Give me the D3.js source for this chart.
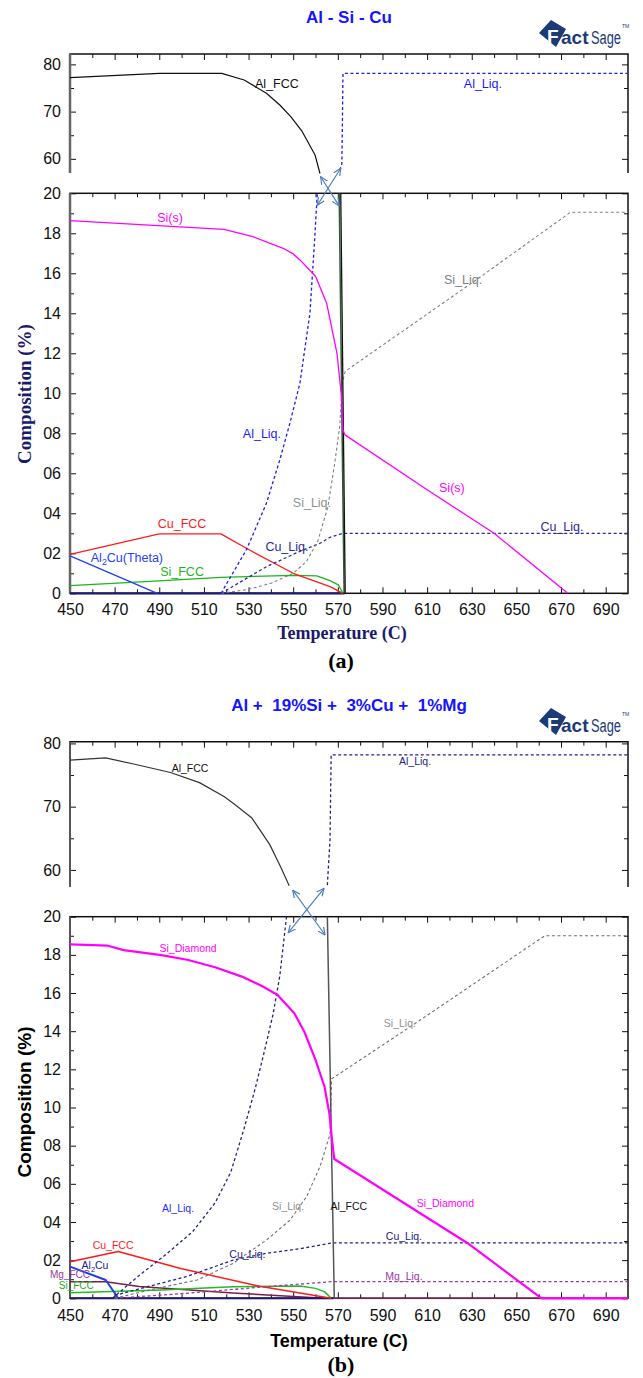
<!DOCTYPE html>
<html>
<head>
<meta charset="utf-8">
<script src="https://cdn.jsdelivr.net/npm/d3@7"></script>
<style>
body{margin:0;background:#fff;}
svg{display:block;}
</style>
</head>
<body>
<div id="chart"></div>
<script>
//Shared axis ticks and labels
var tempLabels = [450,470,490,510,530,550,570,590,610,630,650,670,690];
var tempMinor = [460,480,500,520,540,560,580,600,620,640,660,680];
var compValues = [0,2,4,6,8,10,12,14,16,18,20];
var compLabels = ["0","02","04","06","08","10","12","14","16","18","20"];
var compMinor = [1,3,5,7,9,11,13,15,17,19];
var topValues = [60,70,80];
var topLabels = ["60","70","80"];
var topMinor = [65,75];

//Panel (a) series: [temperature, composition]
var aAlFccTop = [[450,77.2],[490,78.1],[518,78.1],[528,76.7],[538,73.9],[544,71.4],[549,68.9],[554,65.8],[559.8,60.8],[562,56.9]];
var aAlLiqTop = [[571,57.6],[571.8,59],[572,66],[572.3,78.1],[700,78.1]];
var aSiS = [[450,18.63],[519,18.2],[532,17.83],[545.5,17.25],[550,16.97],[553,16.67],[560,15.85],[565,14.5],[569.6,12.0],[571.5,10.0],[572.3,8.17],[573.2,7.92],[610,5.18],[640,3.0],[673,0]];
var aSiLiq = [[517.7,0],[530,0.2],[540,0.5],[550,1.0],[556,1.6],[561,2.6],[565.5,4.3],[568.6,6.5],[570.9,8.4],[572,10.5],[573.3,11.1],[632,15.67],[674.2,19.05],[700,19.05]];
var aAlLiqLow = [[517.7,0],[529,2.17],[538,4.5],[544,6.67],[548.5,8.5],[553,10.5],[557.5,14.0],[559.5,17.5],[560.8,20]];
var aCuLiq = [[517.7,0],[538,1.33],[553,2.1],[562,2.5],[566.5,2.8],[572.3,3.0],[700,3.0]];
var aCuFcc = [[450,1.95],[490,2.97],[517.6,2.97],[529,2.25],[550,1.0],[566.5,0.33],[572.3,0]];
var aAl2Cu = [[450,1.87],[489.1,0]];
var aAl2CuZero = [[450,0],[573,0]];
var aSiFcc = [[450,0.38],[490,0.62],[517.6,0.8],[550,0.9],[560.5,0.87],[566.5,0.63],[570.2,0.42],[572.3,0]];
var aAlFccLow = [[571.3,20],[573.3,0]];
var aAlFccLowShade = [[570.6,20],[572.8,0]];

//Panel (b) series
var bAlFccTop = [[450,77.35],[466,77.7],[479,76.7],[495,75.4],[508,73.8],[519,71.6],[524,70.3],[531.5,68.2],[539.5,64.0],[544.5,60.4],[548.2,57.5]];
var bAlLiqTop = [[565.3,57.6],[566.5,64.8],[567,78.2],[700,78.2]];
var bSiDiamond = [[450,18.55],[467,18.48],[474,18.25],[491,17.99],[503,17.73],[515,17.35],[527,16.86],[536,16.37],[543,15.9],[550.5,14.94],[555,13.97],[560,12.5],[564,11.1],[566.2,9.7],[567.3,8.4],[568.4,7.3],[628,2.9],[661.3,0],[700,0]];
var bAlFccLow = [[565.3,20],[568.4,0]];
var bSiLiq = [[470,0],[490,0.55],[507,0.96],[523,1.83],[538,3.05],[548.6,4.1],[556,5.33],[562,6.9],[566.5,8.6],[567.2,11.5],[604.6,14.4],[662.7,19.0],[700,19.0]];
var bAlLiqLow = [[469,0],[481,1.2],[493,2.3],[505,3.5],[515,5.0],[522,6.6],[528,8.9],[533,11.0],[537,12.9],[541,14.9],[544,16.9],[547,20]];
var bCuLiq = [[470,0.15],[486,0.65],[502,1.13],[523,2.0],[538,2.36],[553,2.6],[567.2,2.9],[700,2.9]];
var bMgLiq = [[470,0],[502,0.26],[538,0.61],[567,0.87],[700,0.87]];
var bCuFcc = [[450,1.92],[471.6,2.45],[500,1.55],[535,0.63],[567,0]];
var bAl2Cu = [[450,1.66],[466,0.96],[471.6,0]];
var bAl2CuZero = [[450,0],[568,0]];
var bMgFcc = [[450,0.87],[466,0.87],[481,0.62],[523,0.28],[560,0.03],[567,0],[700,0]];
var bSiFcc = [[450,0.29],[491,0.44],[523,0.6],[553,0.64],[560,0.52],[564,0.35],[567,0]];

var svg = d3.select("#chart").append("svg")
            .attr("width", 643)
            .attr("height", 1378);

//Open arrow head for the axis-break arrows
svg.append("defs").append("marker")
   .attr("id", "openHead")
   .attr("viewBox", "0 0 8 8")
   .attr("refX", 7.5).attr("refY", 4)
   .attr("markerWidth", 8).attr("markerHeight", 8)
   .attr("markerUnits", "userSpaceOnUse")
   .attr("orient", "auto-start-reverse")
   .append("path")
   .attr("d", "M0,0.5 L7.5,4 L0,7.5")
   .attr("fill", "none")
   .attr("stroke", "#4f7fc0")
   .attr("stroke-width", 1.2);

var sans = "'Liberation Sans', Arial, sans-serif";
var serif = "'Liberation Serif', 'Times New Roman', serif";

function drawLogo(x0, y0) {
  var lg = svg.append("g").attr("transform", "translate(" + x0 + "," + y0 + ")");
  lg.append("polygon")
    .attr("points", "0,13 12,0 27,9 17,27")
    .attr("fill", "#1c3a78");
  lg.append("text").attr("x", 8).attr("y", 23).text("F")
    .attr("font-family", sans).attr("font-weight", "bold")
    .attr("font-size", "19px").attr("fill", "#fff");
  lg.append("text").attr("x", 22).attr("y", 24).text("act")
    .attr("font-family", sans).attr("font-weight", "bold")
    .attr("font-size", "19px").attr("fill", "#1c3a78");
  lg.append("text").attr("x", 52).attr("y", 24).text("Sage")
    .attr("font-family", sans).attr("font-size", "18px")
    .attr("textLength", 30).attr("lengthAdjust", "spacingAndGlyphs")
    .attr("fill", "#1c3a78");
  lg.append("text").attr("x", 83).attr("y", 8).text("TM")
    .attr("font-family", sans).attr("font-size", "5px")
    .attr("fill", "#1c3a78");
}

function drawPanel(p) {
  var g = svg.append("g");
  var x = d3.scaleLinear().domain([450, 700]).range([70, 628]);
  var yTop = d3.scaleLinear().domain(p.topDomain).range([p.topBottom, p.topTop]);
  var yLow = d3.scaleLinear().domain([0, 20]).range([p.lowBottom, p.lowTop]);

  //Title and logo
  g.append("text")
   .attr("x", 349).attr("y", p.titleY)
   .attr("text-anchor", "middle")
   .style("white-space", "pre")
   .attr("font-family", sans).attr("font-weight", "bold")
   .attr("font-size", "17px").attr("fill", "#1414ff")
   .text(p.title);
  drawLogo(539, p.logoY);

  function styleAxis(sel) {
    sel.select(".domain").remove();
    sel.selectAll("line").attr("stroke", "#111");
    sel.selectAll("text").attr("font-family", sans)
       .attr("font-size", "16px").attr("fill", "#111");
  }
  function addAxis(axis, tx, ty) {
    g.append("g").attr("transform", "translate(" + tx + "," + ty + ")")
     .call(axis).call(styleAxis);
  }

  //Top sub-plot axes
  addAxis(d3.axisTop(x).tickValues(tempLabels).tickSize(-6).tickFormat(""), 0, p.topTop);
  addAxis(d3.axisTop(x).tickValues(tempMinor).tickSize(-4).tickFormat(""), 0, p.topTop);
  addAxis(d3.axisLeft(yTop).tickValues(topValues).tickSize(-6).tickPadding(9)
            .tickFormat(function(d, i){ return topLabels[i]; }), 70, 0);
  addAxis(d3.axisLeft(yTop).tickValues(topMinor).tickSize(-4).tickFormat(""), 70, 0);
  addAxis(d3.axisRight(yTop).tickValues(topValues).tickSize(-6).tickFormat(""), 628, 0);
  addAxis(d3.axisRight(yTop).tickValues(topMinor).tickSize(-4).tickFormat(""), 628, 0);

  //Lower sub-plot axes
  addAxis(d3.axisBottom(x).tickValues(tempLabels).tickSize(-6).tickPadding(p.xPad), 0, p.lowBottom);
  addAxis(d3.axisBottom(x).tickValues(tempMinor).tickSize(-4).tickFormat(""), 0, p.lowBottom);
  addAxis(d3.axisTop(x).tickValues(tempLabels).tickSize(-6).tickFormat(""), 0, p.lowTop);
  addAxis(d3.axisTop(x).tickValues(tempMinor).tickSize(-4).tickFormat(""), 0, p.lowTop);
  addAxis(d3.axisLeft(yLow).tickValues(compValues).tickSize(-6).tickPadding(9)
            .tickFormat(function(d, i){ return compLabels[i]; }), 70, 0);
  addAxis(d3.axisLeft(yLow).tickValues(compMinor).tickSize(-4).tickFormat(""), 70, 0);
  addAxis(d3.axisRight(yLow).tickValues(compValues).tickSize(-6).tickFormat(""), 628, 0);
  addAxis(d3.axisRight(yLow).tickValues(compMinor).tickSize(-4).tickFormat(""), 628, 0);

  //Frames: the top plot is open at the bottom (broken axis)
  g.append("path")
   .attr("d", "M70," + p.topBottom + "V" + p.topTop + "H628V" + p.topBottom)
   .attr("fill", "none").attr("stroke", "#111").attr("stroke-width", 1.5);
  g.append("rect")
   .attr("x", 70).attr("y", p.lowTop)
   .attr("width", 558).attr("height", p.lowBottom - p.lowTop)
   .attr("fill", "none").attr("stroke", "#111").attr("stroke-width", 1.5);
  g.append("line")
   .attr("x1", 70).attr("x2", 70)
   .attr("y1", p.topTop).attr("y2", p.topBottom)
   .attr("stroke", p.leftColor).attr("stroke-width", p.leftWidth);
  g.append("line")
   .attr("x1", 70).attr("x2", 70)
   .attr("y1", p.lowTop).attr("y2", p.lowBottom)
   .attr("stroke", p.leftColor).attr("stroke-width", p.leftWidth);

  //Series
  p.series.forEach(function(s) {
    var yy = s.top ? yTop : yLow;
    var line = d3.line().x(function(d){ return x(d[0]); }).y(function(d){ return yy(d[1]); });
    g.append("path")
     .attr("d", line(s.data))
     .attr("fill", "none")
     .attr("stroke", s.color)
     .attr("stroke-width", s.width || 1.3)
     .attr("stroke-dasharray", s.dash ? "3,2.5" : null)
     .attr("stroke-linejoin", "round");
  });

  //Series labels
  p.labels.forEach(function(l) {
    var yy = l.top ? yTop : yLow;
    var t = g.append("text")
             .attr("x", x(l.t)).attr("y", yy(l.v) + p.labelSize * 0.36)
             .attr("text-anchor", "middle")
             .attr("font-family", sans)
             .attr("font-size", (l.size || p.labelSize) + "px")
             .attr("fill", l.color);
    if (l.sub) {
      t.append("tspan").text(l.text[0]);
      t.append("tspan").text(l.sub).attr("dy", 3).attr("font-size", (p.labelSize * 0.7) + "px");
      t.append("tspan").text(l.text[1]).attr("dy", -3);
    } else {
      t.text(l.text);
    }
  });

  //Axis-break arrows
  p.arrows.forEach(function(a) {
    g.append("line")
     .attr("x1", x(a[0])).attr("y1", yTop(a[1]))
     .attr("x2", x(a[2])).attr("y2", yLow(a[3]))
     .attr("stroke", "#4f7fc0").attr("stroke-width", 1.2)
     .attr("marker-start", "url(#openHead)")
     .attr("marker-end", "url(#openHead)");
  });

  //Axis titles and caption
  g.append("text")
   .attr("x", p.xTitleX).attr("y", p.xTitleY)
   .attr("text-anchor", "middle")
   .attr("font-family", p.titleFont).attr("font-weight", "bold")
   .attr("font-size", "18px").attr("fill", p.titleColor)
   .text("Temperature (C)");
  g.append("text")
   .attr("transform", "translate(31," + p.yTitleY + ") rotate(-90)")
   .attr("text-anchor", "middle")
   .attr("font-family", p.titleFont).attr("font-weight", "bold")
   .attr("font-size", "19px").attr("fill", p.titleColor)
   .text("Composition (%)");
  g.append("text")
   .attr("x", 341).attr("y", p.captionY)
   .attr("text-anchor", "middle")
   .attr("font-family", serif).attr("font-weight", "bold")
   .attr("font-size", "22px").attr("fill", "#000")
   .text(p.caption);
}

drawPanel({
  title: "Al - Si - Cu", titleY: 23, logoY: 20,
  topDomain: [57.0, 82.2], topBottom: 173, topTop: 54,
  lowBottom: 593.3, lowTop: 193.3, xPad: 10,
  leftColor: "#666", leftWidth: 2.5,
  titleFont: serif, titleColor: "#1a1a6b",
  xTitleX: 342, xTitleY: 639, yTitleY: 394,
  caption: "(a)", captionY: 668, labelSize: 12.5,
  series: [
    {data: aAlFccTop, color: "#111", top: true, width: 1.2},
    {data: aAlLiqTop, color: "#1a1aff", top: true, dash: true},
    {data: aAl2CuZero, color: "#1a1a70", width: 2.2},
    {data: aSiFcc, color: "#1cb51c"},
    {data: aCuFcc, color: "#ff1a1a"},
    {data: aAl2Cu, color: "#1f3fff"},
    {data: aCuLiq, color: "#2a2a9a", dash: true},
    {data: aSiLiq, color: "#808080", dash: true, width: 1.1},
    {data: aAlLiqLow, color: "#1a1aff", dash: true},
    {data: aAlFccLowShade, color: "#2f5f2f", width: 1.5},
    {data: aAlFccLow, color: "#111", width: 1.3},
    {data: aSiS, color: "#ff00ff", width: 1.3}
  ],
  labels: [
    {text: "Al_FCC", t: 542.7, v: 76.0, top: true, color: "#111"},
    {text: "Al_Liq.", t: 635, v: 76.0, top: true, color: "#1a1aff"},
    {text: "Si(s)", t: 494.8, v: 18.77, color: "#ff00ff"},
    {text: "Si_Liq.", t: 626.1, v: 15.67, color: "#808080"},
    {text: "Al_Liq.", t: 536, v: 7.97, color: "#1a1aff"},
    {text: "Si_Liq.", t: 558.4, v: 4.52, color: "#909090"},
    {text: "Si(s)", t: 621.1, v: 5.27, color: "#ff00ff"},
    {text: "Cu_FCC", t: 500.2, v: 3.47, color: "#ff1a1a"},
    {text: "Cu_Liq.", t: 547.2, v: 2.32, color: "#2a2a9a"},
    {text: "Cu_Liq.", t: 670.4, v: 3.32, color: "#2a2a9a"},
    {text: ["Al", "Cu(Theta)"], sub: "2", t: 475.5, v: 1.77, color: "#1f3fff"},
    {text: "Si_FCC", t: 500.2, v: 1.07, color: "#1cb51c"}
  ],
  arrows: [[562.3, 56.2, 570.6, 19.37], [571.3, 58.0, 560.8, 19.4]]
});

drawPanel({
  title: "Al +  19%Si +  3%Cu +  1%Mg", titleY: 711, logoY: 708,
  topDomain: [57.3, 80.27], topBottom: 887, topTop: 741.7,
  lowBottom: 1298.3, lowTop: 916.7, xPad: 11,
  leftColor: "#555", leftWidth: 2,
  titleFont: sans, titleColor: "#000",
  xTitleX: 339, xTitleY: 1347, yTitleY: 1102,
  caption: "(b)", captionY: 1372, labelSize: 10.5,
  series: [
    {data: bAlFccTop, color: "#333", top: true, width: 1.2},
    {data: bAlLiqTop, color: "#22228a", top: true, dash: true},
    {data: bMgFcc, color: "#7b1c4c", width: 1.5},
    {data: bAl2CuZero, color: "#1a1a70", width: 2},
    {data: bSiFcc, color: "#22bb22", width: 1.5},
    {data: bCuFcc, color: "#ff1a1a", width: 1.5},
    {data: bAl2Cu, color: "#2040e0", width: 2},
    {data: bMgLiq, color: "#9a3a9a", dash: true},
    {data: bCuLiq, color: "#22228a", dash: true},
    {data: bSiLiq, color: "#707070", dash: true, width: 1.1},
    {data: bAlLiqLow, color: "#22228a", dash: true},
    {data: bAlFccLow, color: "#555", width: 1.5},
    {data: bSiDiamond, color: "#ff00ff", width: 2.2}
  ],
  labels: [
    {text: "Al_FCC", t: 503.8, v: 76.03, top: true, color: "#111"},
    {text: "Al_Liq.", t: 604.6, v: 77.14, top: true, color: "#22228a"},
    {text: "Si_Diamond", t: 502.9, v: 18.36, color: "#ff00ff"},
    {text: "Si_Liq.", t: 597.8, v: 14.43, color: "#909090"},
    {text: "Al_Liq.", t: 498.4, v: 4.73, color: "#2a2aff"},
    {text: "Si_Liq.", t: 547.7, v: 4.84, color: "#909090"},
    {text: "Al_FCC", t: 574.9, v: 4.84, color: "#111"},
    {text: "Si_Diamond", t: 618.2, v: 4.99, color: "#ff00ff"},
    {text: "Cu_FCC", t: 469.3, v: 2.79, color: "#ff1a1a"},
    {text: "Cu_Liq.", t: 529.5, v: 2.32, color: "#22228a"},
    {text: "Cu_Liq.", t: 599.6, v: 3.27, color: "#22228a"},
    {text: "Mg_Liq.", t: 599.6, v: 1.17, color: "#9a3a9a"},
    {text: ["Al", "Cu"], sub: "2", t: 461.2, v: 1.74, color: "#22228a"},
    {text: "Mg_FCC", t: 450, v: 1.25, color: "#9a3a9a", size: 10},
    {text: "Si_FCC", t: 452.8, v: 0.68, color: "#22aa22", size: 10}
  ],
  arrows: [[549.8, 56.8, 564.3, 19.04], [563.8, 57.1, 547.8, 19.16]]
});
</script>
</body>
</html>
